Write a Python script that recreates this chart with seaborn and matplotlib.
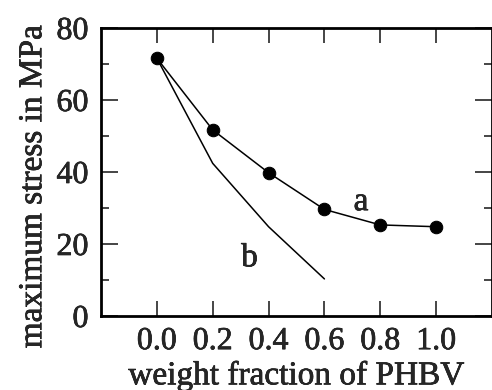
import matplotlib
matplotlib.use("Agg")
import matplotlib.pyplot as plt
import matplotlib.patheffects as pe
import seaborn as sns
import pandas as pd
from matplotlib.ticker import MultipleLocator

sns.set_theme(style="ticks")
plt.rcParams['font.family'] = ['Liberation Serif', 'DejaVu Serif']

# Data
x_a = [0.0, 0.2, 0.4, 0.6, 0.8, 1.0]
y_a = [71.6, 51.7, 39.8, 29.6, 25.3, 24.8]
x_b = [0.0, 0.2, 0.4, 0.6]
y_b = [71.6, 42.4, 24.8, 10.3]
xticks = [0.0, 0.2, 0.4, 0.6, 0.8, 1.0]
xtick_labels = ["0.0", "0.2", "0.4", "0.6", "0.8", "1.0"]
yticks = [0, 20, 40, 60, 80]

df_a = pd.DataFrame({"x": x_a, "y": y_a})
df_b = pd.DataFrame({"x": x_b, "y": y_b})

fig = plt.figure(figsize=(4.92, 3.90), dpi=100)
ax = fig.add_axes([101/492, 74/390, 391/492, 288/390])

sns.lineplot(data=df_a, x="x", y="y", ax=ax, color="black", lw=1.1,
             marker="o", markersize=9, markeredgecolor="black", estimator=None)
sns.lineplot(data=df_b, x="x", y="y", ax=ax, color="black", lw=1.1, estimator=None)

ax.set_xlim(-0.2, 1.2)
ax.set_ylim(0, 80)
ax.set_xticks(xticks)
ax.set_xticklabels(xtick_labels)
ax.set_yticks(yticks)
ax.yaxis.set_minor_locator(MultipleLocator(10))

ax.tick_params(axis="both", which="major", direction="in", top=True, right=True,
               labelsize=23, width=1.2)
ax.tick_params(axis="x", which="major", length=11, pad=8)
ax.tick_params(axis="y", which="major", length=12, pad=9)
ax.tick_params(axis="y", which="minor", direction="in", right=True, length=6, width=1.2)
for s in ax.spines.values():
    s.set_linewidth(2)
    s.set_color("black")

bold = [pe.withStroke(linewidth=0.45, foreground="black")]

ax.set_xlabel("weight fraction of PHBV", fontsize=24, labelpad=3)
ax.set_ylabel("maximum stress in MPa", fontsize=24)
ax.yaxis.set_label_coords(-0.135, 0.45)
ax.xaxis.label.set_path_effects(bold)
ax.yaxis.label.set_path_effects(bold)
for lab in ax.get_xticklabels() + ax.get_yticklabels():
    lab.set_path_effects(bold)

ax.text(0.731, 31.7, "a", fontsize=24, ha="center", va="center", path_effects=bold)
ax.text(0.332, 16.1, "b", fontsize=24, ha="center", va="center", path_effects=bold)

fig.savefig("out.png", dpi=100)
